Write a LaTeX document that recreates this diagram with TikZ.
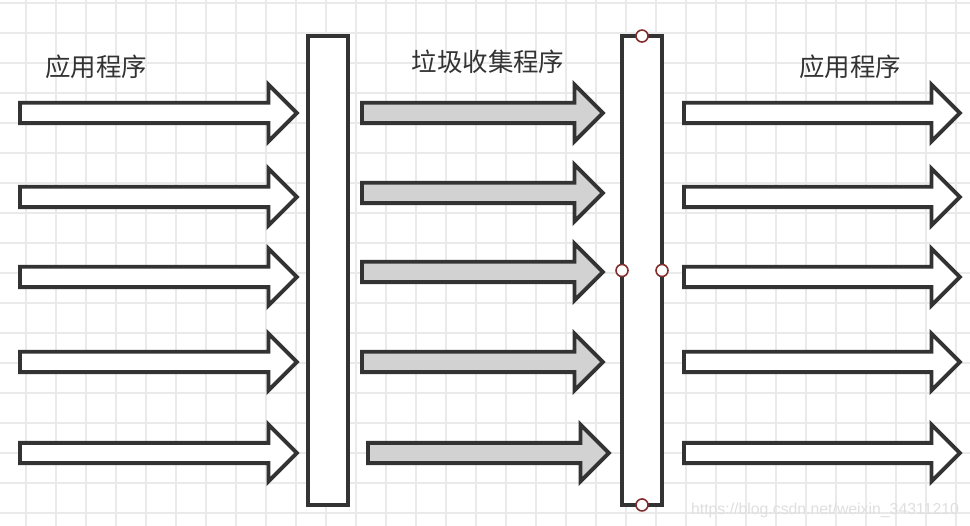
\documentclass[tikz,border=0pt]{standalone}
\usepackage{fontspec}
\newfontfamily\cjk{Noto Sans CJK SC}
\setsansfont{Liberation Sans}
\usetikzlibrary{shapes.arrows, positioning}
\definecolor{gcline}{RGB}{51,51,51}
\definecolor{gcfill}{RGB}{210,210,210}
\definecolor{gcgrid}{RGB}{234,234,234}
\definecolor{gcred}{RGB}{130,45,45}

\begin{document}
\begin{tikzpicture}[x=0.02cm, y=-0.02cm,
  fat/.style={single arrow, draw=gcline, line width=2.2pt, fill=white,
              minimum width=1.06cm, inner xsep=0pt, inner ysep=0.165cm,
              single arrow head extend=0.365cm, anchor=tail, outer sep=0pt},
  appfat/.style={fat, minimum height=5.54cm},
  gcfat/.style={fat, fill=gcfill, minimum height=4.82cm},
  bar/.style={rectangle, draw=gcline, line width=2.2pt, fill=white,
              minimum width=0.8cm, minimum height=9.38cm, inner sep=0pt},
  handle/.style={circle, draw=gcred, line width=0.9pt, fill=white,
                 minimum size=0.24cm, inner sep=0pt},
  label/.style={font=\cjk\fontsize{14.5}{16}\selectfont, text=gcline},
  every node/.style={outer sep=0pt}
]
  \useasboundingbox (0,0) rectangle (970,526);
  \fill[white] (0,0) rectangle (970,526);
  % grid
  \foreach \x in {26,56,...,966} \draw[gcgrid, line width=1.1pt] (\x,0) -- (\x,526);
  \foreach \y in {3,33,...,523} \draw[gcgrid, line width=1.1pt] (0,\y) -- (970,\y);

  % labels
  \node[label] (applbl) at (96,67) {应用程序};
  \node[label] (gclbl) at (488,62) {垃圾收集程序};
  \node[label] (outlbl) at (850,67) {应用程序};

  % application threads, before and after the pause
  \foreach \y [count=\i] in {113,197,277,362,453} {
    \node[appfat] (app\i) at (20,\y) {};
    \node[appfat, minimum height=5.52cm] (out\i) at (684,\y) {};
  }
  % collector threads
  \foreach \x/\y [count=\i] in {362/113, 362/193, 362/272, 362/362, 368/453}
    \node[gcfat] (gc\i) at (\x,\y) {};

  % pause bars
  \node[bar] (stop) at (328,270.5) {};
  \node[bar] (resume) at (642,270.5) {};
  \node[handle] (hn) at (resume.north) {};
  \node[handle] (hs) at (resume.south) {};
  \node[handle] (hw) at (resume.west) {};
  \node[handle] (he) at (resume.east) {};

  \node[font=\sffamily\fontsize{9}{10}\selectfont, text=gcgrid!90!gray] (wm) at (825,510)
    {https://blog.csdn.net/weixin\_34311210};
\end{tikzpicture}
\end{document}
